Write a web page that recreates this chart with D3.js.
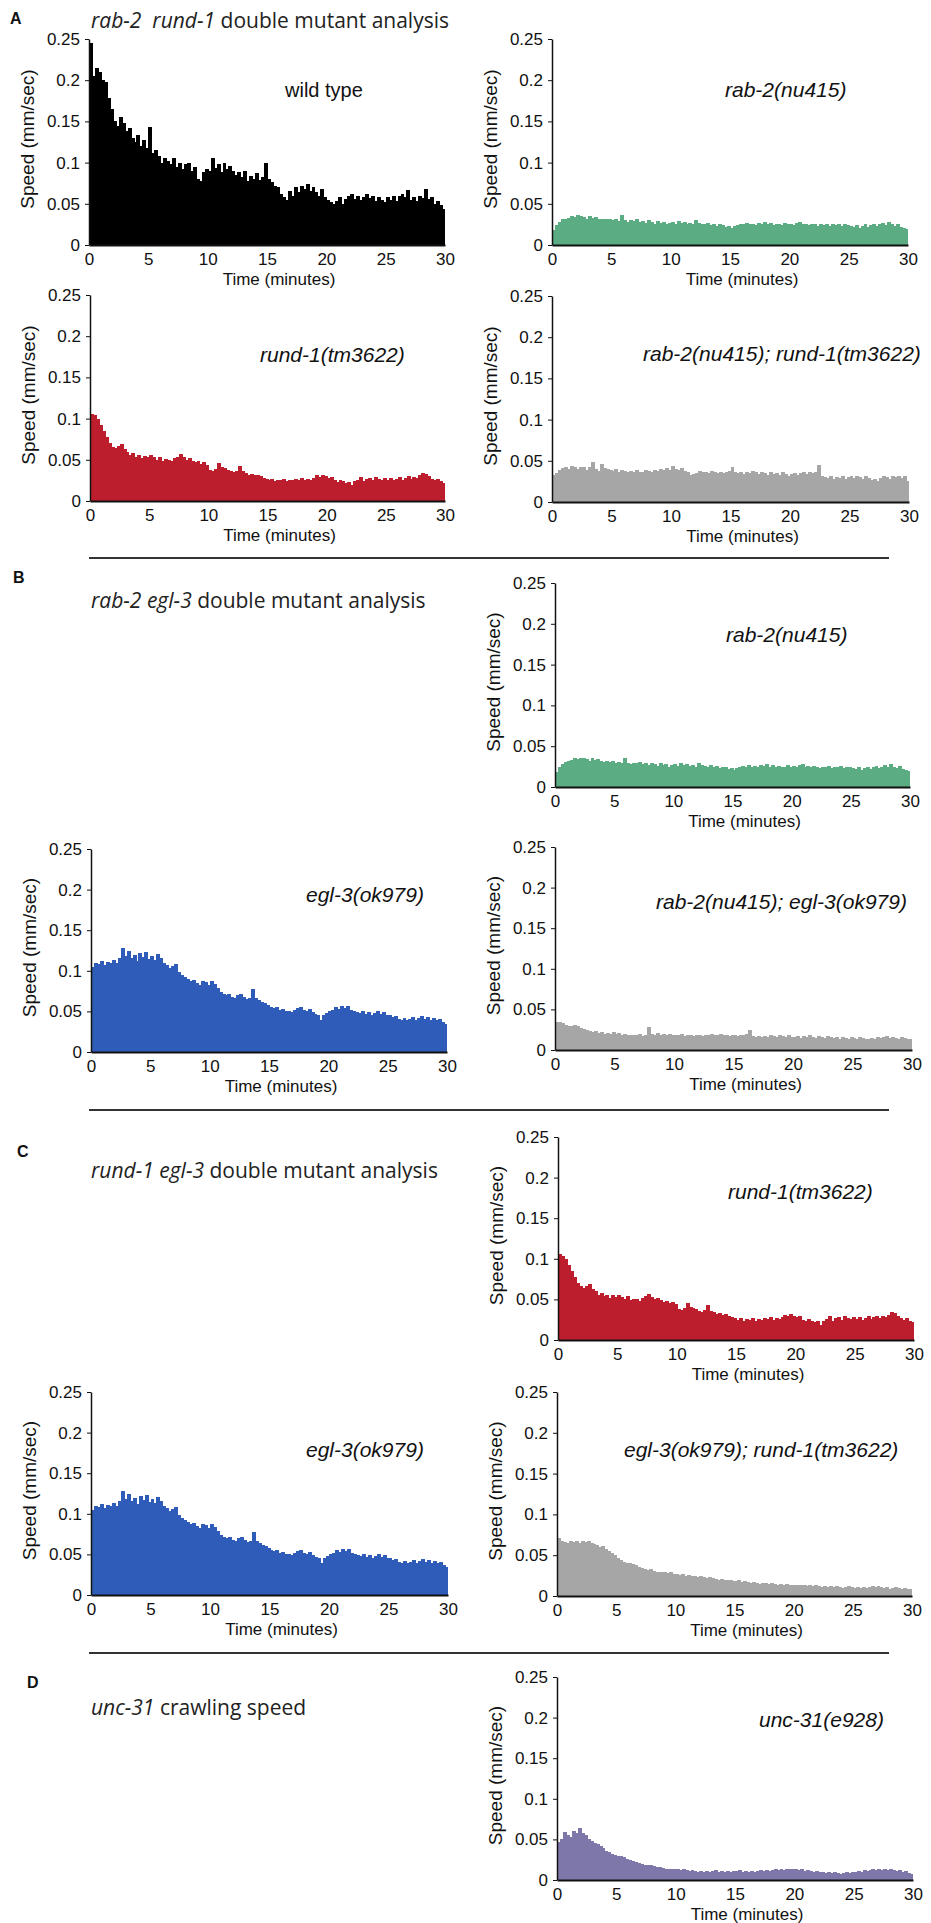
<!DOCTYPE html>
<html lang="en">
<head>
<meta charset="utf-8">
<title>Crawling speed</title>
<script src="https://cdn.jsdelivr.net/npm/d3@7"></script>
<style>
  body { margin: 0; background: #fff; }
  svg { display: block; }
</style>
</head>
<body>
<script>

// time bins are 15 s wide (0.25 min), 120 bins over 30 minutes
var binMinutes = 0.25;
var xTicks = [0, 5, 10, 15, 20, 25, 30];
var yTicks = [0, 0.05, 0.1, 0.15, 0.2, 0.25];

// speed (mm/sec) per bin
var wildType = [
  0.245, 0.205, 0.215, 0.21, 0.2, 0.198, 0.178, 0.165, 0.15, 0.145,
  0.155, 0.148, 0.138, 0.142, 0.13, 0.125, 0.133, 0.12, 0.128, 0.118,
  0.143, 0.112, 0.115, 0.108, 0.1, 0.106, 0.102, 0.098, 0.105, 0.095,
  0.1, 0.092, 0.098, 0.1, 0.09, 0.095, 0.08, 0.078, 0.088, 0.092,
  0.09, 0.105, 0.093, 0.098, 0.088, 0.1, 0.092, 0.096, 0.09, 0.085,
  0.088, 0.082, 0.09, 0.078, 0.084, 0.08, 0.087, 0.079, 0.082, 0.1,
  0.08, 0.076, 0.072, 0.07, 0.062, 0.058, 0.055, 0.066, 0.06, 0.07,
  0.064, 0.072, 0.068, 0.074, 0.066, 0.07, 0.064, 0.06, 0.068, 0.058,
  0.055, 0.052, 0.05, 0.054, 0.058, 0.05, 0.056, 0.06, 0.062, 0.056,
  0.06, 0.055, 0.058, 0.062, 0.057, 0.06, 0.054, 0.058, 0.055, 0.052,
  0.058, 0.055, 0.06, 0.054, 0.06, 0.062, 0.058, 0.067, 0.055, 0.058,
  0.053, 0.06, 0.057, 0.068, 0.056, 0.058, 0.05, 0.054, 0.048, 0.044
];

var rab2 = [
  0.018, 0.024, 0.028, 0.031, 0.032, 0.033, 0.035, 0.034, 0.036, 0.035,
  0.034, 0.032, 0.035, 0.033, 0.034, 0.032, 0.031, 0.032, 0.031, 0.032,
  0.03, 0.031, 0.029, 0.036, 0.03, 0.028, 0.03, 0.029, 0.031, 0.028,
  0.029, 0.027, 0.03, 0.028, 0.026, 0.029, 0.027, 0.028, 0.025, 0.027,
  0.028, 0.026, 0.029, 0.027, 0.028, 0.026, 0.027, 0.025, 0.03, 0.027,
  0.026, 0.025, 0.027, 0.024, 0.026, 0.023, 0.025, 0.024, 0.022, 0.023,
  0.021, 0.023, 0.024, 0.026, 0.025, 0.027, 0.025, 0.026, 0.024, 0.027,
  0.026, 0.028, 0.025, 0.027, 0.024, 0.026, 0.025, 0.024, 0.027, 0.025,
  0.026, 0.024, 0.027, 0.028, 0.025, 0.026, 0.024, 0.026, 0.025, 0.023,
  0.025, 0.024, 0.026, 0.023, 0.025, 0.024, 0.026, 0.023, 0.025, 0.024,
  0.023, 0.022, 0.024, 0.021, 0.023, 0.025, 0.022, 0.024, 0.026, 0.023,
  0.025, 0.027, 0.024, 0.028, 0.025, 0.023, 0.026, 0.022, 0.021, 0.019
];

var rund1 = [
  0.106, 0.104, 0.1, 0.092, 0.085, 0.078, 0.07, 0.066, 0.064, 0.067,
  0.069, 0.063, 0.06, 0.056, 0.058, 0.054, 0.056, 0.052, 0.055, 0.053,
  0.056, 0.053, 0.05, 0.054, 0.049, 0.051, 0.05, 0.048, 0.052, 0.054,
  0.057, 0.053, 0.05, 0.052, 0.049, 0.047, 0.048, 0.045, 0.047, 0.044,
  0.038, 0.037, 0.039, 0.046, 0.041, 0.04, 0.038, 0.036, 0.035, 0.037,
  0.043, 0.036, 0.034, 0.032, 0.033, 0.031, 0.032, 0.03, 0.028, 0.027,
  0.025, 0.027, 0.024, 0.026, 0.025, 0.027, 0.024, 0.026, 0.025, 0.027,
  0.026, 0.028, 0.025, 0.027, 0.026, 0.028, 0.031, 0.029, 0.032, 0.03,
  0.028, 0.029, 0.025, 0.023, 0.026, 0.024, 0.022, 0.023, 0.019, 0.024,
  0.026, 0.029, 0.024, 0.027, 0.028, 0.025, 0.029, 0.027, 0.026, 0.028,
  0.026, 0.028, 0.025, 0.027, 0.029, 0.026, 0.028, 0.03, 0.027, 0.029,
  0.028, 0.031, 0.034, 0.033, 0.03, 0.027, 0.025, 0.027, 0.024, 0.022
];

var rab2Rund1 = [
  0.033, 0.035, 0.039, 0.041, 0.042, 0.04, 0.044, 0.043, 0.04, 0.042,
  0.042, 0.039, 0.043, 0.048, 0.04, 0.038, 0.046, 0.041, 0.04, 0.039,
  0.038, 0.04, 0.037, 0.039, 0.038, 0.036, 0.038, 0.037, 0.039, 0.036,
  0.037, 0.039, 0.038, 0.036, 0.039, 0.038, 0.04, 0.039, 0.041, 0.039,
  0.044, 0.04, 0.039, 0.041, 0.038, 0.036, 0.033, 0.034, 0.035, 0.038,
  0.036, 0.037, 0.035, 0.038, 0.036, 0.035, 0.037, 0.035, 0.036, 0.038,
  0.042, 0.036, 0.035, 0.037, 0.034, 0.036, 0.035, 0.038, 0.036, 0.034,
  0.036, 0.035, 0.033, 0.036, 0.034, 0.035, 0.033, 0.036, 0.034, 0.032,
  0.034, 0.035, 0.033, 0.035, 0.036, 0.034, 0.037, 0.035, 0.036, 0.045,
  0.031, 0.03, 0.029, 0.031, 0.028, 0.03, 0.029, 0.031, 0.028, 0.03,
  0.031, 0.029, 0.032, 0.03, 0.028, 0.031, 0.029, 0.027, 0.028, 0.026,
  0.029, 0.031, 0.03, 0.028, 0.032, 0.03, 0.031, 0.029, 0.032, 0.025
];

var egl3 = [
  0.105, 0.11, 0.108, 0.112, 0.107, 0.111, 0.109, 0.113, 0.11, 0.116,
  0.128, 0.118, 0.124, 0.116, 0.12, 0.112, 0.122, 0.117, 0.123, 0.114,
  0.118, 0.113, 0.121, 0.116, 0.11, 0.107, 0.103, 0.106, 0.108, 0.099,
  0.095, 0.092, 0.09, 0.087, 0.089, 0.085, 0.083, 0.087, 0.086, 0.082,
  0.088, 0.084, 0.079, 0.074, 0.072, 0.07, 0.071, 0.068, 0.067, 0.07,
  0.072, 0.068, 0.065, 0.067, 0.078, 0.066, 0.064, 0.061, 0.06, 0.058,
  0.055, 0.054, 0.056, 0.052, 0.053, 0.05, 0.051, 0.049, 0.052, 0.054,
  0.056, 0.052, 0.05, 0.053, 0.049, 0.047, 0.046, 0.04, 0.045, 0.048,
  0.05, 0.052, 0.055, 0.053, 0.057, 0.054, 0.057, 0.052, 0.05, 0.049,
  0.048, 0.05, 0.047, 0.049, 0.046, 0.048, 0.05, 0.047, 0.049, 0.045,
  0.046, 0.043, 0.044, 0.041, 0.04, 0.042, 0.04, 0.041, 0.043, 0.04,
  0.042, 0.044, 0.041, 0.043, 0.04, 0.042, 0.039, 0.041, 0.037, 0.035
];

var rab2Egl3 = [
  0.035, 0.034, 0.033, 0.031, 0.03, 0.029, 0.031, 0.029, 0.027, 0.026,
  0.025, 0.024, 0.022, 0.023, 0.021, 0.022, 0.02, 0.021, 0.02, 0.022,
  0.02, 0.021, 0.019, 0.02, 0.019, 0.018, 0.019, 0.018, 0.02, 0.017,
  0.019, 0.028, 0.02, 0.019, 0.021, 0.019, 0.02, 0.018, 0.02, 0.019,
  0.019, 0.018, 0.02, 0.017, 0.018, 0.019, 0.017, 0.018, 0.019, 0.017,
  0.019, 0.018, 0.02, 0.018, 0.019, 0.02, 0.018, 0.019, 0.017, 0.018,
  0.018, 0.017, 0.019, 0.018, 0.02, 0.025, 0.017, 0.016, 0.017, 0.016,
  0.017, 0.016, 0.018, 0.017, 0.016, 0.018, 0.017, 0.016, 0.018, 0.016,
  0.016, 0.017, 0.015, 0.017, 0.016, 0.018, 0.016, 0.015, 0.017, 0.016,
  0.015, 0.017, 0.016, 0.015, 0.016, 0.014, 0.016, 0.015, 0.014, 0.016,
  0.015, 0.014, 0.016, 0.015, 0.014, 0.013, 0.015, 0.014, 0.016, 0.015,
  0.016, 0.017, 0.015, 0.016, 0.015, 0.014, 0.016, 0.015, 0.014, 0.013
];

var egl3Rund1 = [
  0.071, 0.068, 0.066, 0.065, 0.067, 0.066, 0.068, 0.065, 0.067, 0.066,
  0.067, 0.065, 0.064, 0.062, 0.06, 0.061, 0.058, 0.055, 0.053, 0.05,
  0.047, 0.044, 0.042, 0.04, 0.041, 0.039, 0.038, 0.036, 0.034, 0.033,
  0.032, 0.033, 0.031, 0.03, 0.03, 0.029, 0.03, 0.028, 0.029, 0.027,
  0.027, 0.026, 0.027, 0.025, 0.026, 0.024, 0.025, 0.023, 0.024, 0.023,
  0.022, 0.023, 0.022, 0.021, 0.02, 0.021, 0.02, 0.019, 0.02, 0.018,
  0.018, 0.019, 0.017, 0.018, 0.017, 0.016, 0.017, 0.016, 0.015, 0.016,
  0.016, 0.015, 0.016, 0.015, 0.014, 0.015, 0.014, 0.015, 0.014, 0.013,
  0.014, 0.013, 0.014, 0.013, 0.012, 0.013, 0.012, 0.013, 0.012, 0.011,
  0.012, 0.011, 0.012, 0.011, 0.012, 0.011, 0.01, 0.011, 0.012, 0.011,
  0.01, 0.011, 0.01, 0.011, 0.01, 0.011, 0.012, 0.011, 0.012, 0.011,
  0.01, 0.011, 0.009, 0.01, 0.011, 0.01, 0.009, 0.01, 0.009, 0.008
];

var unc31 = [
  0.047, 0.05, 0.059, 0.055, 0.053, 0.06, 0.058, 0.064, 0.058, 0.055,
  0.05, 0.048, 0.045, 0.044, 0.042, 0.039, 0.036, 0.034, 0.032, 0.031,
  0.03, 0.029, 0.028, 0.026, 0.025, 0.024, 0.022, 0.021, 0.02, 0.019,
  0.019, 0.018, 0.017, 0.016, 0.016, 0.015, 0.014, 0.014, 0.013, 0.014,
  0.013, 0.012, 0.013, 0.012, 0.011, 0.012, 0.011, 0.01, 0.011, 0.01,
  0.011, 0.01, 0.011, 0.012, 0.01, 0.011, 0.01, 0.011, 0.01, 0.011,
  0.011, 0.012, 0.01, 0.011, 0.01, 0.011, 0.01, 0.011, 0.012, 0.011,
  0.012, 0.011, 0.012, 0.013, 0.012, 0.013, 0.012, 0.014, 0.013, 0.014,
  0.013, 0.012, 0.013, 0.011, 0.012, 0.011, 0.01, 0.011, 0.01, 0.01,
  0.009, 0.01, 0.009, 0.01, 0.009, 0.008, 0.009, 0.01, 0.009, 0.01,
  0.01, 0.011, 0.01, 0.012, 0.011, 0.012, 0.013, 0.012, 0.013, 0.012,
  0.013, 0.012, 0.013, 0.012, 0.011, 0.012, 0.01, 0.011, 0.009, 0.008
];

var w = 931;
var h = 1923;

var colors = {
  black: "#000000",
  green: "#5bac83",
  red: "#bd1e2e",
  gray: "#a6a6a6",
  blue: "#2f5cb8",
  purple: "#7d78a9"
};

// one entry per small chart: data, colour, label and where it sits
var panels = [
  { data: wildType,  color: colors.black,  label: "wild type", italic: false, x0: 89,  x1: 445, top: 39,   bottom: 245,  lx: 285, ly: 97 },
  { data: rab2,      color: colors.green,  label: "rab-2(nu415)", italic: true, x0: 552, x1: 908, top: 39,   bottom: 245,  lx: 725, ly: 97 },
  { data: rund1,     color: colors.red,    label: "rund-1(tm3622)", italic: true, x0: 90,  x1: 445, top: 295,  bottom: 501,  lx: 260, ly: 362 },
  { data: rab2Rund1, color: colors.gray,   label: "rab-2(nu415); rund-1(tm3622)", italic: true, x0: 552, x1: 909, top: 296,  bottom: 502,  lx: 643, ly: 361 },
  { data: rab2,      color: colors.green,  label: "rab-2(nu415)", italic: true, x0: 555, x1: 910, top: 583,  bottom: 787,  lx: 726, ly: 642 },
  { data: egl3,      color: colors.blue,   label: "egl-3(ok979)", italic: true, x0: 91,  x1: 447, top: 849,  bottom: 1052, lx: 306, ly: 902 },
  { data: rab2Egl3,  color: colors.gray,   label: "rab-2(nu415); egl-3(ok979)", italic: true, x0: 555, x1: 912, top: 847,  bottom: 1050, lx: 656, ly: 909 },
  { data: rund1,     color: colors.red,    label: "rund-1(tm3622)", italic: true, x0: 558, x1: 914, top: 1137, bottom: 1340, lx: 728, ly: 1199 },
  { data: egl3,      color: colors.blue,   label: "egl-3(ok979)", italic: true, x0: 91,  x1: 448, top: 1392, bottom: 1595, lx: 306, ly: 1457 },
  { data: egl3Rund1, color: colors.gray,   label: "egl-3(ok979); rund-1(tm3622)", italic: true, x0: 557, x1: 912, top: 1392, bottom: 1596, lx: 624, ly: 1457 },
  { data: unc31,     color: colors.purple, label: "unc-31(e928)", italic: true, x0: 557, x1: 913, top: 1677, bottom: 1880, lx: 759, ly: 1727 }
];

var sections = [
  { letter: "A", lx: 10, ly: 24,   italicPart: "rab-2  rund-1", rest: " double mutant analysis", ty: 28 },
  { letter: "B", lx: 13, ly: 583,  italicPart: "rab-2 egl-3", rest: " double mutant analysis", ty: 608 },
  { letter: "C", lx: 17, ly: 1157, italicPart: "rund-1 egl-3", rest: " double mutant analysis", ty: 1178 },
  { letter: "D", lx: 27, ly: 1688, italicPart: "unc-31", rest: " crawling speed", ty: 1715 }
];
var separators = [558, 1110, 1653];

var svg = d3.select("body")
  .append("svg")
  .attr("width", w)
  .attr("height", h);

svg.append("rect").attr("width", w).attr("height", h).attr("fill", "#fff");

var sans = "'Liberation Sans', Arial, sans-serif";

// section letters and headings
sections.forEach(function(s) {
  svg.append("text")
    .attr("x", s.lx)
    .attr("y", s.ly)
    .attr("font-family", sans)
    .attr("font-weight", "bold")
    .attr("font-size", "16px")
    .attr("fill", "#111")
    .text(s.letter);

  var t = svg.append("text")
    .attr("x", 91)
    .attr("y", s.ty)
    .attr("font-family", "'Open Sans', 'Noto Sans', sans-serif")
    .attr("font-size", "21px")
    .attr("fill", "#222")
    .attr("xml:space", "preserve");
  t.append("tspan").attr("font-style", "italic").text(s.italicPart);
  t.append("tspan").text(s.rest);
});

separators.forEach(function(y) {
  svg.append("line")
    .attr("x1", 89).attr("x2", 889)
    .attr("y1", y).attr("y2", y)
    .attr("stroke", "#333")
    .attr("stroke-width", 2);
});

panels.forEach(function(p) {
  var xScale = d3.scaleLinear()
    .domain([0, 30])
    .range([p.x0, p.x1]);

  var yScale = d3.scaleLinear()
    .domain([0, 0.25])
    .range([p.bottom, p.top]);

  var g = svg.append("g");
  var binW = xScale(binMinutes) - xScale(0);

  // bars overlap by a pixel so no light seams show between them
  g.selectAll("rect")
    .data(p.data)
    .enter()
    .append("rect")
    .attr("x", function(d, i) { return xScale(i * binMinutes); })
    .attr("width", function(d, i) { return i === p.data.length - 1 ? binW : binW + 1; })
    .attr("y", function(d) { return yScale(d); })
    .attr("height", function(d) { return p.bottom - yScale(d); })
    .attr("fill", p.color)
    .attr("shape-rendering", "crispEdges");

  var yAxis = d3.axisLeft(yScale)
    .tickValues(yTicks)
    .tickFormat(function(d) { return String(+d.toFixed(2)); })
    .tickSize(4)
    .tickSizeOuter(0)
    .tickPadding(5);

  var xAxis = d3.axisBottom(xScale)
    .tickValues(xTicks)
    .tickSize(0)
    .tickPadding(8);

  var gy = g.append("g")
    .attr("transform", "translate(" + p.x0 + ",0)")
    .call(yAxis);

  var gx = g.append("g")
    .attr("transform", "translate(0," + p.bottom + ")")
    .call(xAxis);

  [gx, gy].forEach(function(a) {
    a.attr("font-family", sans).attr("font-size", "17px");
    a.selectAll("text").attr("fill", "#111");
    a.selectAll("line").attr("stroke", "#111");
  });
  gy.select(".domain").attr("stroke", "#111").attr("stroke-width", 1.5);
  gx.select(".domain").attr("stroke", "#111").attr("stroke-width", 2);

  // axis titles
  g.append("text")
    .attr("transform", "translate(" + (p.x0 - 55) + "," + ((p.top + p.bottom) / 2 - 3) + ") rotate(-90)")
    .attr("text-anchor", "middle")
    .attr("font-family", sans)
    .attr("font-size", "19px")
    .attr("fill", "#111")
    .text("Speed (mm/sec)");

  g.append("text")
    .attr("x", (p.x0 + p.x1) / 2 + 12)
    .attr("y", p.bottom + 40)
    .attr("text-anchor", "middle")
    .attr("font-family", sans)
    .attr("font-size", "17px")
    .attr("fill", "#111")
    .text("Time (minutes)");

  // strain label
  g.append("text")
    .attr("x", p.lx)
    .attr("y", p.ly)
    .attr("font-family", sans)
    .attr("font-style", p.italic ? "italic" : "normal")
    .attr("font-size", p.italic ? "21px" : "20px")
    .attr("fill", "#111")
    .text(p.label);
});

</script>
</body>
</html>
